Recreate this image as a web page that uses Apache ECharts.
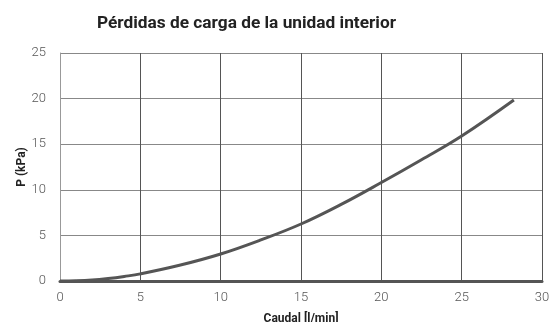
<!DOCTYPE html>
<html>
<head>
<meta charset="utf-8">
<script src="https://cdn.jsdelivr.net/npm/echarts@6/dist/echarts.min.js"></script>
<style>
  html, body { margin: 0; padding: 0; background: #fff; }
  #chart { width: 554px; height: 322px; }
</style>
</head>
<body>
<div id="chart"></div>
<script>
// caudal (l/min) y pérdida de carga (kPa)
var caudal = [0, 1, 2, 3, 4, 5, 7.5, 10, 12.5, 15, 17.5, 20, 22.5, 25, 28.25];
var presion = [0, 0.02, 0.1, 0.27, 0.5, 0.78, 1.75, 2.96, 4.5, 6.25, 8.4, 10.8, 13.3, 15.9, 19.85];
var xTicks = [0, 5, 10, 15, 20, 25, 30];
var yTicks = [0, 5, 10, 15, 20, 25];

var chart = echarts.init(document.getElementById('chart'));

var pts = caudal.map(function (q, i) { return [q, presion[i]]; });

chart.setOption({
    animation: false,
    title: {
        text: 'Pérdidas de carga de la unidad interior',
        left: 92, top: 10,
        textStyle: { fontFamily: 'Roboto', fontWeight: 'bold', fontSize: 17.3, color: '#222' }
    },
    grid: { left: 60, right: 12, top: 53, bottom: 41, outerBoundsMode: 'none' },
    xAxis: {
        type: 'value', min: xTicks[0], max: xTicks[xTicks.length - 1], interval: 5,
        name: 'Caudal [l/min]', nameLocation: 'middle', nameGap: 32,
        nameMoveOverlap: false,
        nameTextStyle: { fontFamily: 'Roboto', fontWeight: 'bold', fontSize: 12, color: '#222' },
        axisLine: { show: true, onZero: false, lineStyle: { color: '#555', width: 3 } },
        axisTick: { show: false },
        axisLabel: { color: '#555', fontFamily: 'Roboto', fontWeight: 300, fontSize: 13, margin: 10 },
        splitLine: { show: true, lineStyle: { color: '#555', width: 1 } }
    },
    yAxis: {
        type: 'value', min: yTicks[0], max: yTicks[yTicks.length - 1], interval: 5,
        name: 'P (kPa)', nameLocation: 'middle', nameGap: 32, nameRotate: 90,
        nameMoveOverlap: false,
        nameTextStyle: { fontFamily: 'Roboto', fontWeight: 'bold', fontSize: 12, color: '#222' },
        axisLine: { show: true, lineStyle: { color: '#999', width: 1 } },
        axisTick: { show: false },
        axisLabel: { color: '#555', fontFamily: 'Roboto', fontWeight: 300, fontSize: 13, margin: 14 },
        splitLine: { show: true, lineStyle: { color: '#888', width: 1 } }
    },
    series: [{
        type: 'line',
        data: pts,
        smooth: 0.4,
        symbol: 'none',
        lineStyle: { color: '#555', width: 3 }
    }]
});
</script>
</body>
</html>
